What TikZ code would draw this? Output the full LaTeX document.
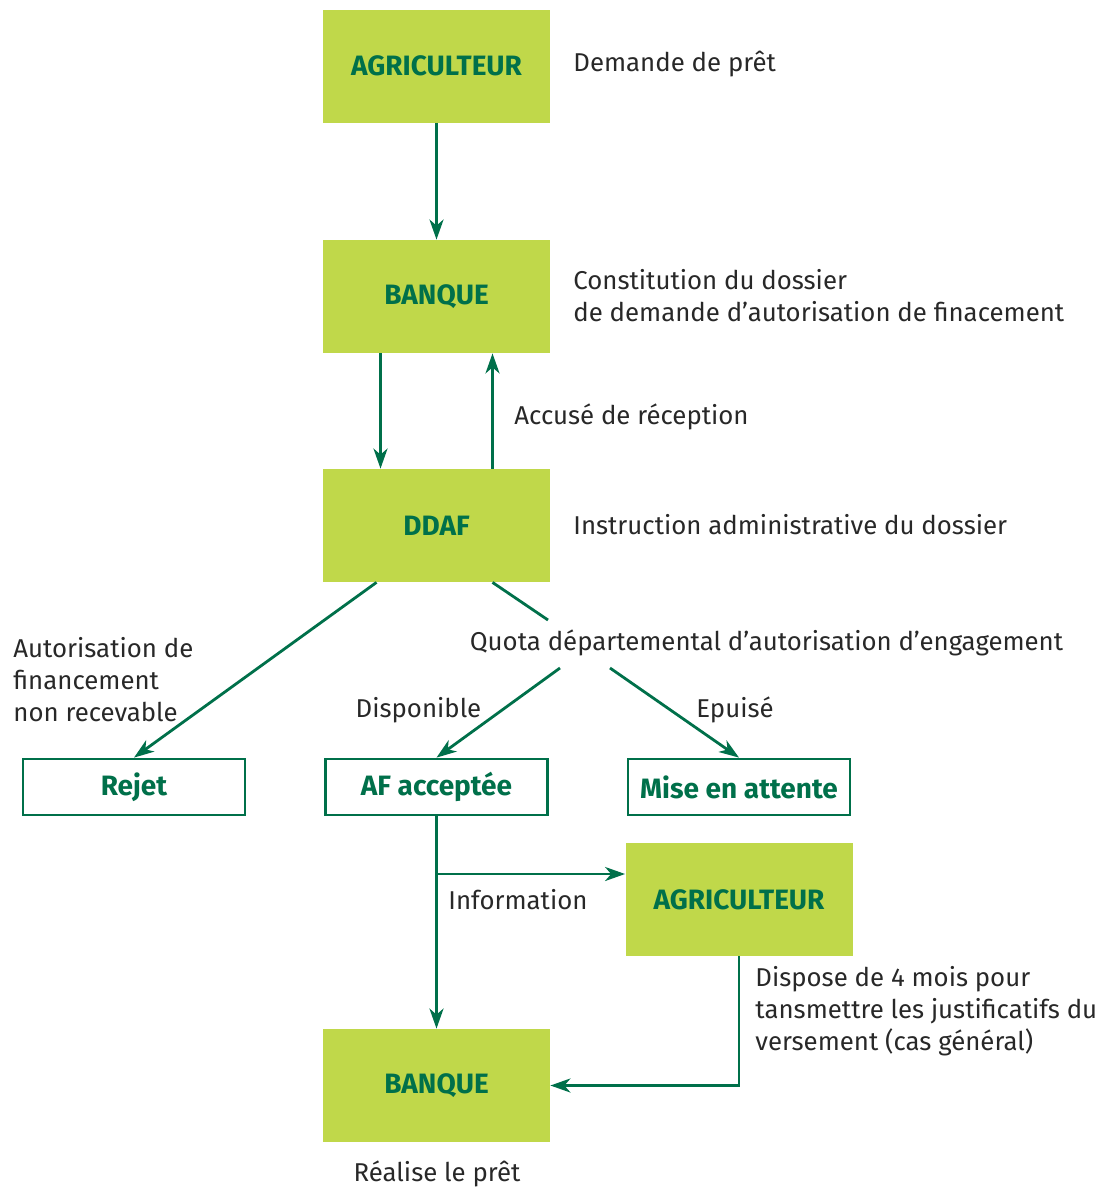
\documentclass[tikz,border=0pt]{standalone}
\usepackage{fontspec}
\setmainfont{Fira Sans}
\usetikzlibrary{arrows.meta}
\definecolor{limebox}{RGB}{192,216,74}
\definecolor{darkgreen}{RGB}{0,112,74}
\definecolor{textgray}{RGB}{40,40,40}

\begin{document}
\begin{tikzpicture}[x=0.5pt, y=-0.5pt,
        every node/.style={font=\fontsize{12.9}{16}\selectfont, text=textgray, inner sep=0pt},
        fullbox/.style={fill=limebox, minimum width=113.5pt, minimum height=56.5pt,
            font=\fontsize{14}{16}\selectfont\bfseries, text=darkgreen},
        framebox/.style={draw=darkgreen, line width=1.4pt, fill=white, minimum width=111pt,
            minimum height=28pt, font=\fontsize{14}{16}\selectfont\bfseries, text=darkgreen},
        flow/.style={draw=darkgreen, line width=1.4pt, -{Stealth[length=10pt, width=7pt, inset=3pt]}},
        plain/.style={draw=darkgreen, line width=1.4pt},
        note/.style={anchor=west, align=left}]
        \useasboundingbox (0,0) rectangle (1116,1189);

        % boxes
        \node[fullbox] (agri) at (436.5,66) {AGRICULTEUR};
        \node[fullbox] (banque) at (436.5,296.5) {BANQUE};
        \node[fullbox] (ddaf) at (436.5,525.5) {DDAF};
        \node[framebox] (rejet) at (134,787) {Rejet};
        \node[framebox] (af) at (436.5,787) {AF acceptée};
        \node[framebox] (attente) at (739,787) {Mise en attente};
        \node[fullbox] (agri2) at (739,899.5) {AGRICULTEUR};
        \node[fullbox] (banque2) at (436.5,1085.5) {BANQUE};

        % texts
        \node[note] (demande) at (573,64) {Demande de prêt};
        \node[note] (constitution) at (573,296)
            {Constitution du dossier\\de demande d’autorisation de finacement};
        \node[note] (accuse) at (514,417) {Accusé de réception};
        \node[note] (instruction) at (573,525) {Instruction administrative du dossier};
        \node[note] (nonrecevable) at (13,680)
            {Autorisation de\\financement\\non recevable};
        \node (quota) at (766.5,643) {Quota départemental d’autorisation d’engagement};
        \node (disponible) at (418.5,710) {Disponible};
        \node (epuise) at (735,710) {Epuisé};
        \node[note] (information) at (448,900) {Information};
        \node[note] (dispose) at (755,1011)
            {Dispose de 4 mois pour\\tansmettre les justificatifs du\\versement (cas général)};
        \node (realise) at (437,1174) {Réalise le prêt};

        % connectors
        \coordinate (qin) at (548,620);
        \coordinate (qleft) at (560,668);
        \coordinate (qright) at (610,668);
        \coordinate (branch) at (436.5,874);

        \draw[flow] (agri) -- (banque);
        \draw[flow] ([xshift=-28pt]banque.south) -- ([xshift=-28pt]ddaf.north);
        \draw[flow] ([xshift=28pt]ddaf.north) -- ([xshift=28pt]banque.south);
        \draw[flow] ([xshift=-30pt]ddaf.south) -- (rejet.north);
        \draw[plain] ([xshift=28pt]ddaf.south) -- (qin);
        \draw[flow] (qleft) -- (af.north);
        \draw[flow] (qright) -- (attente.north);
        \draw[flow] (af) -- (banque2);
        \draw[flow] (branch) -- (branch -| agri2.west);
        \draw[flow] (agri2.south) |- (banque2.east);
    \end{tikzpicture}
\end{document}
